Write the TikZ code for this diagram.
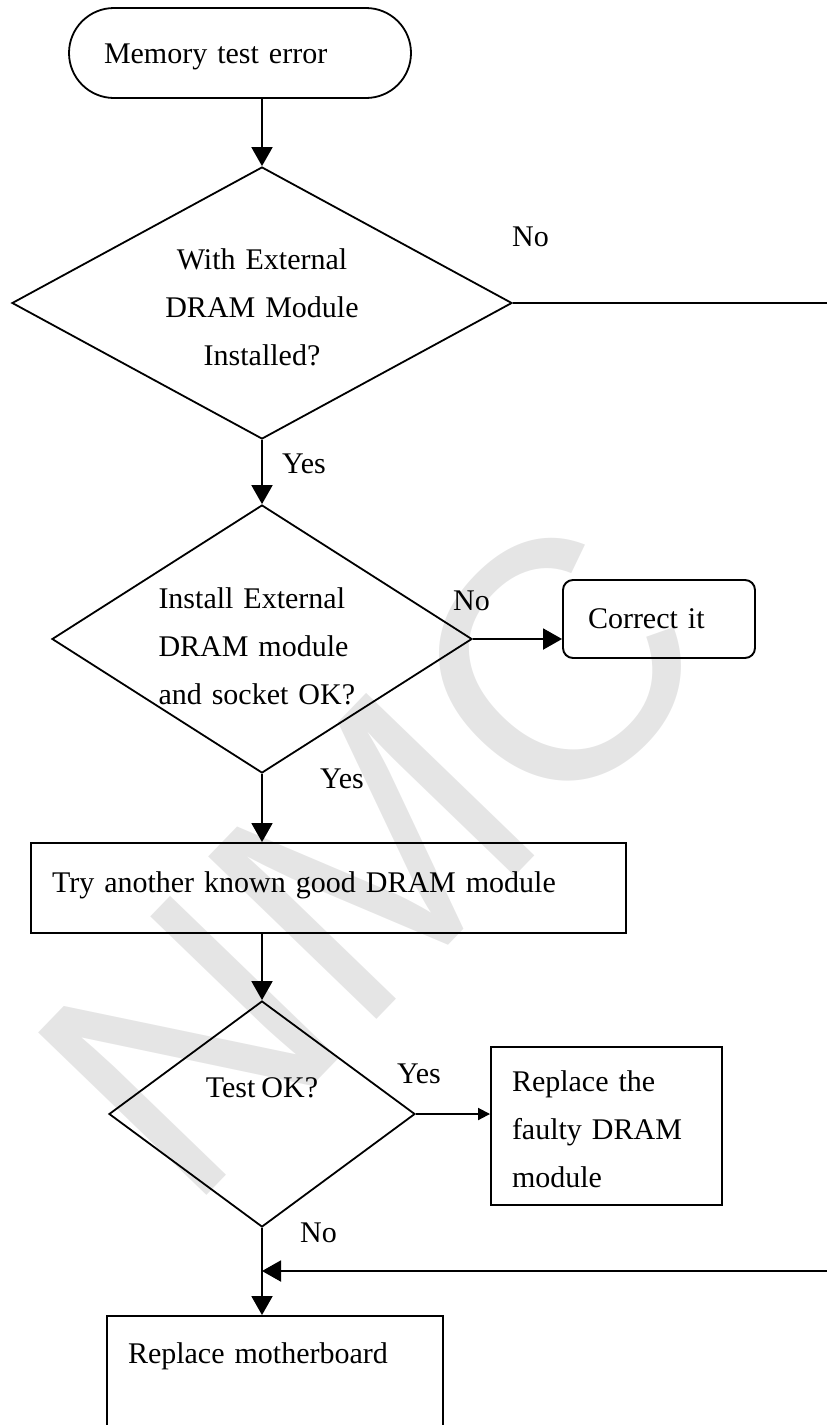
\documentclass[tikz,border=0pt]{standalone}
\usepackage{fontspec}
\setmainfont{Liberation Serif}[WordSpace=0.8]
\newfontfamily\markfont{Liberation Sans}
\usetikzlibrary{shapes.geometric,arrows.meta,positioning}

\begin{document}
\begin{tikzpicture}[
x=1pt, y=-1pt,
every node/.style={
font=\fontsize{30}{48}\selectfont,
inner sep=0pt
},
arrow/.style={-{Triangle[length=19pt,width=21pt]}, line width=1.9pt},
smallarrow/.style={-{Triangle[length=12pt,width=12pt]}, line width=1.9pt}
]

% =====================================================
% Styles
% =====================================================

\tikzstyle{terminal} =
[rectangle, rounded corners=45pt,
draw, line width=1.8pt,
align=left]

\tikzstyle{process} =
[rectangle,
draw, line width=1.9pt,
align=left]

\tikzstyle{decision} =
[diamond,
draw, line width=1.8pt]

\tikzstyle{answer} =
[anchor=base west]

\tikzstyle{watermark} =
[font=\markfont\fontsize{340}{340}\selectfont,
text=black!10, rotate=46]

\clip (0,0) rectangle (827,1425);

% =====================================================
% Watermark
% =====================================================

\node (mark) [watermark] at (372,856) {NMC};

% =====================================================
% Nodes
% =====================================================

\node (start) [terminal, minimum width=342pt, minimum height=90pt,
text width=272pt, text height=20pt, text depth=0pt] at (240,53)
{Memory test error};

\node (check) [decision, minimum width=500pt, minimum height=272pt,
shape aspect=1.85, text width=200pt, text height=30pt, align=center]
at (262,303)
{With External\\DRAM Module\\Installed?};

\node (socket) [decision, minimum width=420pt, minimum height=268pt,
shape aspect=1.57, text width=207pt, text height=36pt, align=left]
at (262,639)
{Install External\\DRAM module\\and socket OK?};

\node (correct) [process, rounded corners=10pt, minimum width=192pt,
minimum height=78pt, text width=142pt] at (659,619)
{Correct it};

\node (tryother) [process, minimum width=595pt, minimum height=90pt,
text width=553pt, text height=21pt, text depth=13pt] at (328.5,888)
{Try another known good DRAM module};

\node (test) [decision, minimum width=306pt, minimum height=226pt,
shape aspect=1.36, text depth=52pt] at (262,1114)
{Test OK?};

\node (faulty) [process, minimum width=231pt, minimum height=158pt,
text width=189pt, text height=28pt] at (606.5,1126)
{Replace the\\faulty DRAM\\module};

\node (board) [process, minimum width=336pt, minimum height=158pt,
text width=294pt, text height=20pt, text depth=84pt] at (275,1395)
{Replace motherboard};

\coordinate (edgetop) at (827,303);
\coordinate (edgebot) at (827,1271);

% =====================================================
% Labels
% =====================================================

\node (no1) [answer] at (512,246) {No};
\node (yes1) [answer] at (282,473) {Yes};
\node (no2) [answer] at (453,610) {No};
\node (yes2) [answer] at (320,788) {Yes};
\node (yes3) [answer] at (397,1083) {Yes};
\node (no3) [answer] at (300,1242) {No};

% =====================================================
% Arrows
% =====================================================

\draw [arrow] (start.south -| check.north) -- (check.north);

\draw [line width=1.9pt] (check.east) -- (edgetop);

\draw [arrow] (check.south) -- (socket.north);

\draw [arrow] (socket.east) -- (socket.east -| correct.west);

\draw [arrow] (socket.south) -- (socket.south |- tryother.north);

\draw [arrow] (tryother.south -| test.north) -- (test.north);

\draw [smallarrow] (test.east) -- (test.east -| faulty.west);

\draw [arrow] (test.south) -- (test.south |- board.north);

\draw [arrow] (edgebot) -- (test.south |- edgebot);

\end{tikzpicture}
\end{document}
